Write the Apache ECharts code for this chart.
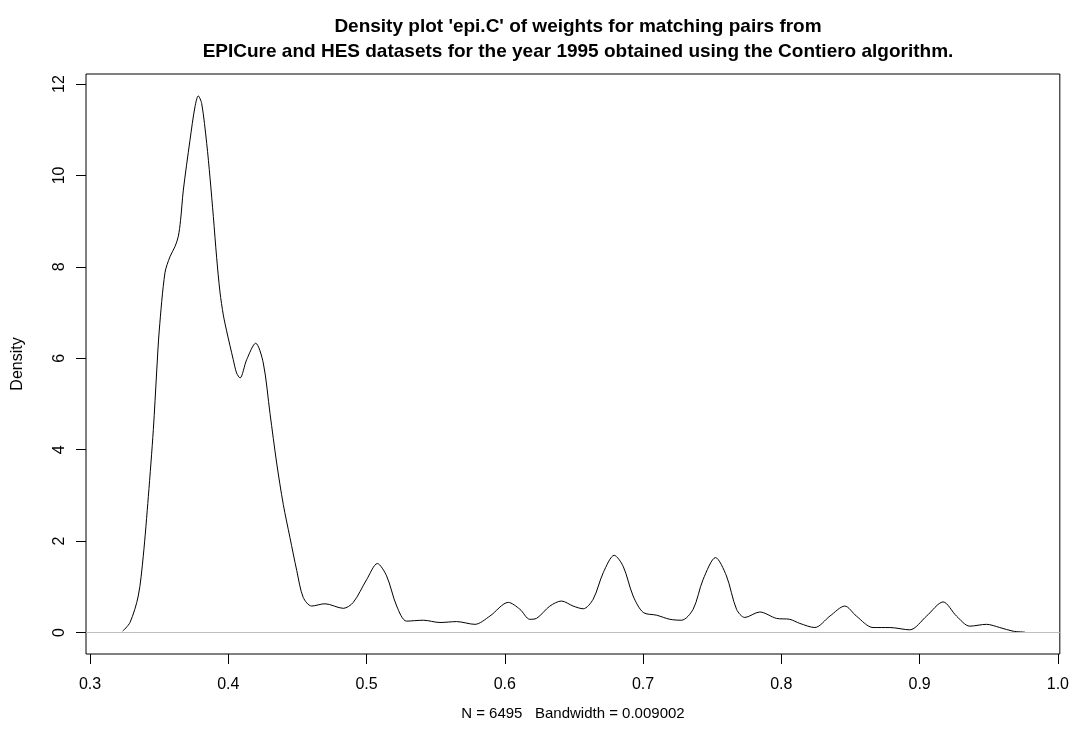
<!DOCTYPE html>
<html>
<head>
<meta charset="utf-8">
<title>Density plot epi.C</title>
<script src="https://cdn.jsdelivr.net/npm/echarts@6/dist/echarts.min.js"></script>
<style>
  html, body { margin: 0; padding: 0; background: #fff; }
  #chart { width: 1072px; height: 733px; }
</style>
</head>
<body>
<div id="chart"></div>
<script>
// Kernel density estimate of match weights (x) and density (y)
const weights = [
  0.3236, 0.3289, 0.3349, 0.3385, 0.3422, 0.3458, 0.3482, 0.3501, 0.3542, 0.3578,
  0.3614, 0.3638, 0.3655, 0.3675, 0.3723, 0.3759, 0.3783, 0.3808, 0.3844, 0.3868,
  0.3892, 0.3916, 0.3940, 0.3964, 0.3988, 0.4036, 0.4060, 0.4085, 0.4133, 0.4198,
  0.4253, 0.4302, 0.4350, 0.4398, 0.4446, 0.4495, 0.4542, 0.4603, 0.4699, 0.4832,
  0.4904, 0.5001, 0.5078, 0.5145, 0.5218, 0.5290, 0.5410, 0.5531, 0.5651, 0.5784,
  0.5892, 0.6025, 0.6109, 0.6181, 0.6229, 0.6326, 0.6410, 0.6494, 0.6567, 0.6639,
  0.6712, 0.6791, 0.6856, 0.6928, 0.7001, 0.7098, 0.7194, 0.7278, 0.7362, 0.7434,
  0.7524, 0.7603, 0.7676, 0.7736, 0.7844, 0.7965, 0.8061, 0.8134, 0.8242, 0.8351,
  0.8459, 0.8543, 0.8663, 0.8785, 0.8929, 0.9050, 0.9170, 0.9267, 0.9363, 0.9484,
  0.9580, 0.9676, 0.9761
];
const density = [
  0.03, 0.22, 0.80, 1.67, 2.98, 4.44, 5.70, 6.62, 7.87, 8.22,
  8.44, 8.66, 9.02, 9.68, 10.77, 11.50, 11.74, 11.57, 10.70, 9.95,
  9.10, 8.20, 7.45, 6.95, 6.60, 5.97, 5.68, 5.57, 5.97, 6.33,
  5.90, 4.79, 3.71, 2.80, 2.08, 1.36, 0.77, 0.58, 0.63, 0.53,
  0.66, 1.16, 1.51, 1.24, 0.58, 0.25, 0.27, 0.22, 0.24, 0.18,
  0.36, 0.66, 0.51, 0.29, 0.31, 0.58, 0.69, 0.58, 0.52, 0.73,
  1.31, 1.69, 1.45, 0.80, 0.44, 0.38, 0.29, 0.27, 0.51, 1.16,
  1.64, 1.24, 0.51, 0.33, 0.45, 0.31, 0.29, 0.20, 0.11, 0.36,
  0.58, 0.36, 0.11, 0.11, 0.06, 0.36, 0.67, 0.36, 0.14, 0.18,
  0.11, 0.03, 0.01
];
const xTicks = [0.3, 0.4, 0.5, 0.6, 0.7, 0.8, 0.9, 1.0];
const yTicks = [0, 2, 4, 6, 8, 10, 12];

const titleLines = [
  "Density plot 'epi.C' of weights for matching pairs from",
  "EPICure and HES datasets for the year 1995 obtained using the Contiero algorithm."
];
const xLabel = 'N = 6495   Bandwidth = 0.009002';
const yLabel = 'Density';

const FONT = "'Liberation Sans', Arial, Helvetica, sans-serif";
const chart = echarts.init(document.getElementById('chart'), null, { renderer: 'canvas' });

const points = weights.map((w, i) => [w, density[i]]);

chart.setOption({
  animation: false,
  backgroundColor: '#ffffff',
  title: {
    text: titleLines.join('\n'),
    left: 573,
    top: 9,
    textAlign: 'center',
    textStyle: {
      fontFamily: FONT, fontWeight: 'bold', fontSize: 19, lineHeight: 25, color: '#000'
    }
  },
  grid: {
    left: 86, right: 12, top: 74, bottom: 79,
    show: true, borderColor: '#000', borderWidth: 1, backgroundColor: 'transparent'
  },
  xAxis: {
    type: 'value',
    min: 0.2971, max: 1.0014,
    name: xLabel,
    nameLocation: 'middle',
    nameGap: 52,
    nameTextStyle: { fontFamily: FONT, fontSize: 15, color: '#000' },
    axisLine: { show: false, onZero: false },
    splitLine: { show: false },
    axisTick: {
      show: true, inside: false, length: 10,
      customValues: xTicks,
      lineStyle: { color: '#000', width: 1 }
    },
    axisLabel: {
      customValues: xTicks,
      formatter: v => v.toFixed(1),
      margin: 23,
      fontFamily: FONT, fontSize: 16, color: '#000'
    }
  },
  yAxis: {
    type: 'value',
    min: -0.469, max: 12.22,
    name: yLabel,
    nameLocation: 'middle',
    nameGap: 60,
    nameRotate: 90,
    nameTextStyle: { fontFamily: FONT, fontSize: 16, color: '#000' },
    axisLine: { show: false, onZero: false },
    splitLine: { show: false },
    axisTick: {
      show: true, inside: false, length: 10,
      customValues: yTicks,
      lineStyle: { color: '#000', width: 1 }
    },
    axisLabel: {
      customValues: yTicks,
      rotate: 90,
      margin: 18,
      fontFamily: FONT, fontSize: 16, color: '#000'
    }
  },
  series: [{
    type: 'line',
    data: points,
    smooth: 0.3,
    showSymbol: false,
    lineStyle: { color: '#000', width: 1 },
    silent: true,
    markLine: {
      silent: true,
      symbol: ['none', 'none'],
      label: { show: false },
      lineStyle: { color: '#bebebe', type: 'solid', width: 1.2 },
      data: [{ yAxis: 0 }]
    }
  }]
});
</script>
</body>
</html>
